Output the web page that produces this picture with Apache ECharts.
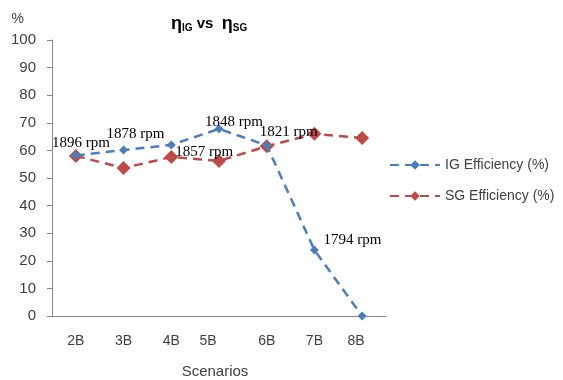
<!DOCTYPE html>
<html><head><meta charset="utf-8">
<script src="https://cdn.jsdelivr.net/npm/echarts@6/dist/echarts.min.js"></script>
<style>html,body{margin:0;padding:0;background:#fff}#c{width:563px;height:380px}</style>
</head><body><div id="c"></div>
<script>
const categories = ['2B','3B','4B','5B','6B','7B','8B'];
const igEfficiency = [58.2, 60.1, 62.0, 67.8, 61.8, 23.9, 0];
const sgEfficiency = [58.0, 53.6, 57.6, 56.2, 61.5, 66.0, 64.5];
const rpmLabels = ['1896 rpm','1878 rpm','1857 rpm','1848 rpm','1821 rpm','1794 rpm',''];
const yTicks = {min: 0, max: 100, interval: 10};

const labelOffsets = [[5,-12],[12,-16],[33,7],[15,-7],[22,-13],[38,-10],[0,0]];
const xLabelStyle = ['n','n','up','left','up','n','left2'];
const txt = '#404040';
const font = 'Liberation Sans';

const chart = echarts.init(document.getElementById('c'));
chart.setOption({
  animation: false,
  backgroundColor: '#fff',
  title: {
    text: '{e|η}{s|IG}{v| vs  }{e|η}{s|SG}',
    left: 166, top: 10,
    textStyle: {
      rich: {
        e: {fontFamily: font, fontSize: 18, fontWeight: 'bold', color: '#000'},
        v: {fontFamily: font, fontSize: 15, fontWeight: 'bold', color: '#000'},
        s: {fontFamily: font, fontSize: 10, fontWeight: 'bold', color: '#000', padding: [8,0,0,0]}
      }
    }
  },
  grid: {left: 52, right: 177, top: 40, bottom: 64, containLabel: false, outerBoundsMode: 'none'},
  legend: {
    orient: 'vertical', left: 384, top: 153, itemGap: 17,
    itemWidth: 50, itemHeight: 12,
    textStyle: {fontFamily: font, fontSize: 14, color: txt},
    data: ['IG Efficiency (%)', 'SG Efficiency (%)']
  },
  xAxis: {
    type: 'category', data: categories, boundaryGap: true,
    name: 'Scenarios', nameLocation: 'middle', nameGap: 48,
    nameTextStyle: {fontFamily: font, fontSize: 15, color: txt, padding: [0, 8, 0, 0]},
    axisLine: {lineStyle: {color: '#868686', width: 1}},
    axisTick: {show: false},
    axisLabel: {
      interval: 0, hideOverlap: false,
      fontFamily: font, fontSize: 14, color: txt, margin: 18,
      formatter: (v, i) => '{' + xLabelStyle[i] + '|' + v + '}',
      rich: {
        n: {fontFamily: font, fontSize: 14, color: txt},
        up: {fontFamily: font, fontSize: 14, color: txt, padding: [0, 0, 8, 0]},
        left: {fontFamily: font, fontSize: 14, color: txt, padding: [0, 22, 0, 0]},
        left2: {fontFamily: font, fontSize: 14, color: txt, padding: [0, 12, 0, 0]}
      }
    }
  },
  yAxis: {
    type: 'value', min: yTicks.min, max: yTicks.max, interval: yTicks.interval,
    name: '%', nameLocation: 'end', nameGap: 14,
    nameTextStyle: {fontFamily: font, fontSize: 14, color: txt, align: 'right', padding: [0, 28, 0, 0]},
    splitLine: {show: false},
    axisLine: {show: true, lineStyle: {color: '#868686', width: 1}},
    axisTick: {show: true, length: 5, lineStyle: {color: '#868686'}},
    axisLabel: {fontFamily: font, fontSize: 15, color: txt, margin: 16}
  },
  series: [
    {
      name: 'IG Efficiency (%)', type: 'line',
      data: igEfficiency.map((v, i) => ({
        value: v,
        label: {show: rpmLabels[i] !== '', formatter: rpmLabels[i], position: 'inside', offset: labelOffsets[i]}
      })),
      symbol: 'diamond', symbolSize: 9, z: 3,
      itemStyle: {color: '#4a7ebb'},
      lineStyle: {color: '#4a7ebb', width: 2.5, type: [9, 6]},
      label: {fontFamily: 'Liberation Serif', fontSize: 15, color: '#000'}
    },
    {
      name: 'SG Efficiency (%)', type: 'line', data: sgEfficiency,
      symbol: 'diamond', symbolSize: 14, z: 2,
      itemStyle: {color: '#be4b48'},
      lineStyle: {color: '#be4b48', width: 2.5, type: [9, 6]}
    }
  ]
});
</script></body></html>
